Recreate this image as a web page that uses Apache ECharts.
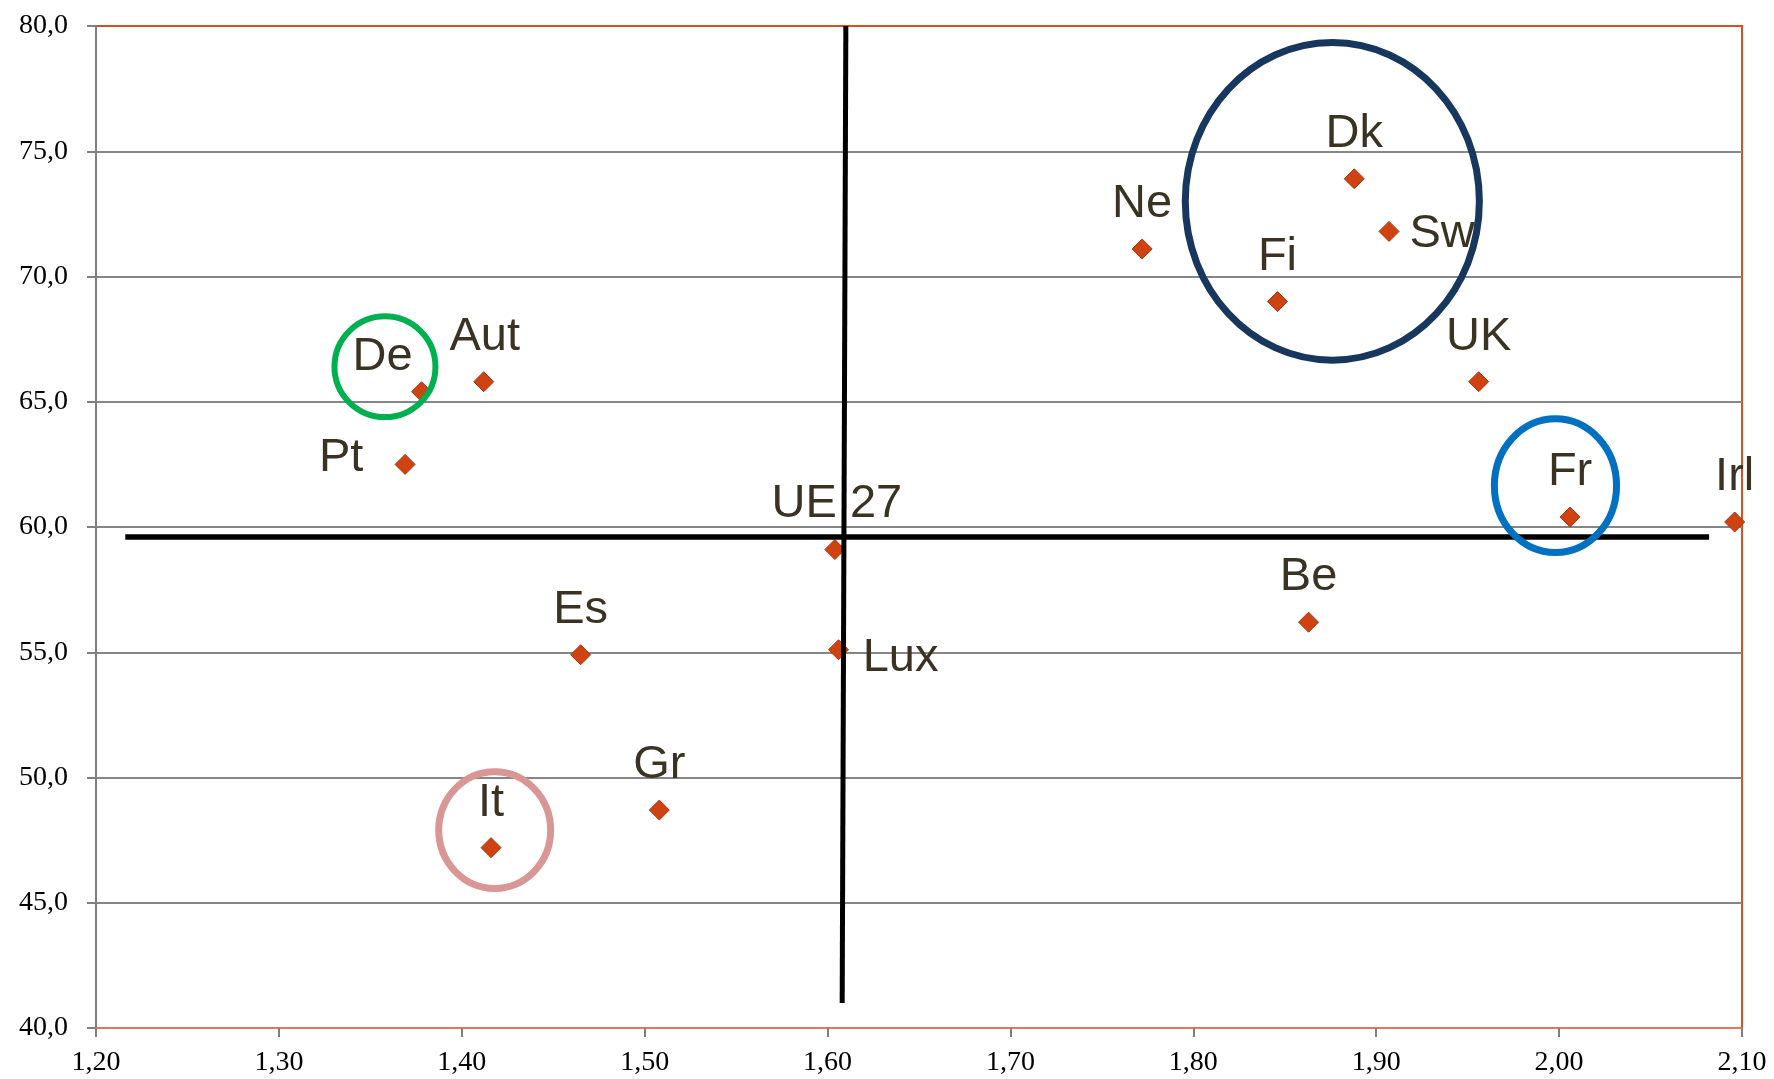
<!DOCTYPE html>
<html>
<head>
<meta charset="utf-8">
<style>
  html, body { margin: 0; padding: 0; background: #fff; }
  #main { width: 1774px; height: 1079px; }
</style>
<script src="https://cdn.jsdelivr.net/npm/echarts@6/dist/echarts.min.js"></script>
</head>
<body>
<div id="main"></div>
<script>
// pays et valeurs
const countries = ['De', 'Aut', 'Pt', 'UE 27', 'Es', 'Lux', 'Gr', 'It', 'Ne', 'Dk', 'Sw', 'Fi', 'UK', 'Fr', 'Irl', 'Be']
const xValues = [1.378, 1.412, 1.369, 1.604, 1.465, 1.606, 1.508, 1.416, 1.772, 1.888, 1.907, 1.846, 1.956, 2.006, 2.096, 1.863]
const yValues = [65.4, 65.8, 62.5, 59.1, 54.9, 55.1, 48.7, 47.2, 71.1, 73.9, 71.8, 69.0, 65.8, 60.4, 60.2, 56.2]

// graduations
const xTicks = [1.2, 1.3, 1.4, 1.5, 1.6, 1.7, 1.8, 1.9, 2.0, 2.1]
const yTicks = [40, 45, 50, 55, 60, 65, 70, 75, 80]

// axes de la moyenne (traits noirs)
const hLine = [[1.216, 59.6], [2.082, 59.6]]
const vLine = [[1.610, 80], [1.608, 41.0]]

// cercles de mise en évidence (centre et rayons en unités des axes)
const circleCenters = [[1.358, 66.4], [1.876, 73.0], [1.998, 61.65], [1.418, 47.9]]
const circleRadii = [[0.0276, 2.01], [0.0804, 6.34], [0.0334, 2.67], [0.0306, 2.33]]
const circleColors = ['#00b050', '#17375e', '#0070c0', '#d99694']

// décalage des étiquettes (px), par défaut au-dessus du point
const labelOffset = {
  'De': [-39, -35],
  'Pt': [-64, -6],
  'Sw': [53, 3],
  'Lux': [62, 8],
  'Aut': [1, -45],
  'UE 27': [2, -45]
}

const chart = echarts.init(document.getElementById('main'))

const points = countries.map((c, i) => ({
  name: c,
  value: [xValues[i], yValues[i]],
  label: { offset: labelOffset[c] || [0, -45] }
}))

const option = {
  animation: false,
  grid: {
    left: 96, right: 32, top: 26, bottom: 51,
    show: true,
    borderColor: '#d9501e',
    borderWidth: 2
  },
  xAxis: {
    type: 'value',
    min: xTicks[0],
    max: xTicks[xTicks.length - 1],
    interval: 0.1,
    axisLine: { show: true, lineStyle: { color: '#e07a52', width: 2 } },
    axisTick: { show: true, length: 9, lineStyle: { color: '#808080', width: 2 } },
    splitLine: { show: false },
    axisLabel: {
      margin: 21,
      fontFamily: 'Liberation Serif',
      fontSize: 28,
      color: '#000',
      formatter: v => v.toFixed(2).replace('.', ',')
    }
  },
  yAxis: {
    type: 'value',
    min: yTicks[0],
    max: yTicks[yTicks.length - 1],
    interval: 5,
    axisLine: { show: true, lineStyle: { color: '#808080', width: 2 } },
    axisTick: { show: true, length: 9, lineStyle: { color: '#808080', width: 2 } },
    splitLine: { show: true, showMinLine: false, showMaxLine: false, lineStyle: { color: '#868686', width: 2 } },
    axisLabel: {
      margin: 28,
      fontFamily: 'Liberation Serif',
      fontSize: 28,
      color: '#000',
      formatter: v => v.toFixed(1).replace('.', ',')
    }
  },
  series: [
    {
      type: 'scatter',
      symbol: 'diamond',
      symbolSize: 20,
      itemStyle: { color: '#cf4312', borderColor: '#a8340c', borderWidth: 1, opacity: 1 },
      label: {
        show: true,
        position: 'inside',
        formatter: '{b}',
        fontFamily: 'Liberation Sans',
        fontSize: 47,
        color: '#3a3323'
      },
      data: points,
      z: 2
    },
    {
      type: 'line',
      data: hLine,
      symbol: 'none',
      lineStyle: { color: '#000', width: 5.5, cap: 'butt' },
      z: 3
    },
    {
      type: 'line',
      data: vLine,
      symbol: 'none',
      lineStyle: { color: '#000', width: 5, cap: 'butt' },
      z: 3
    }
  ]
}

chart.setOption(option)

// ellipses posées en coordonnées de données
const graphics = circleCenters.map((c, i) => {
  const p = chart.convertToPixel({ gridIndex: 0 }, c)
  const q = chart.convertToPixel({ gridIndex: 0 }, [c[0] + circleRadii[i][0], c[1] + circleRadii[i][1]])
  return {
    type: 'ellipse',
    shape: { cx: p[0], cy: p[1], rx: Math.abs(q[0] - p[0]), ry: Math.abs(q[1] - p[1]) },
    style: { fill: 'none', stroke: circleColors[i], lineWidth: i === 0 ? 6 : 7 },
    z: 10
  }
})
chart.setOption({ graphic: graphics })
</script>
</body>
</html>
